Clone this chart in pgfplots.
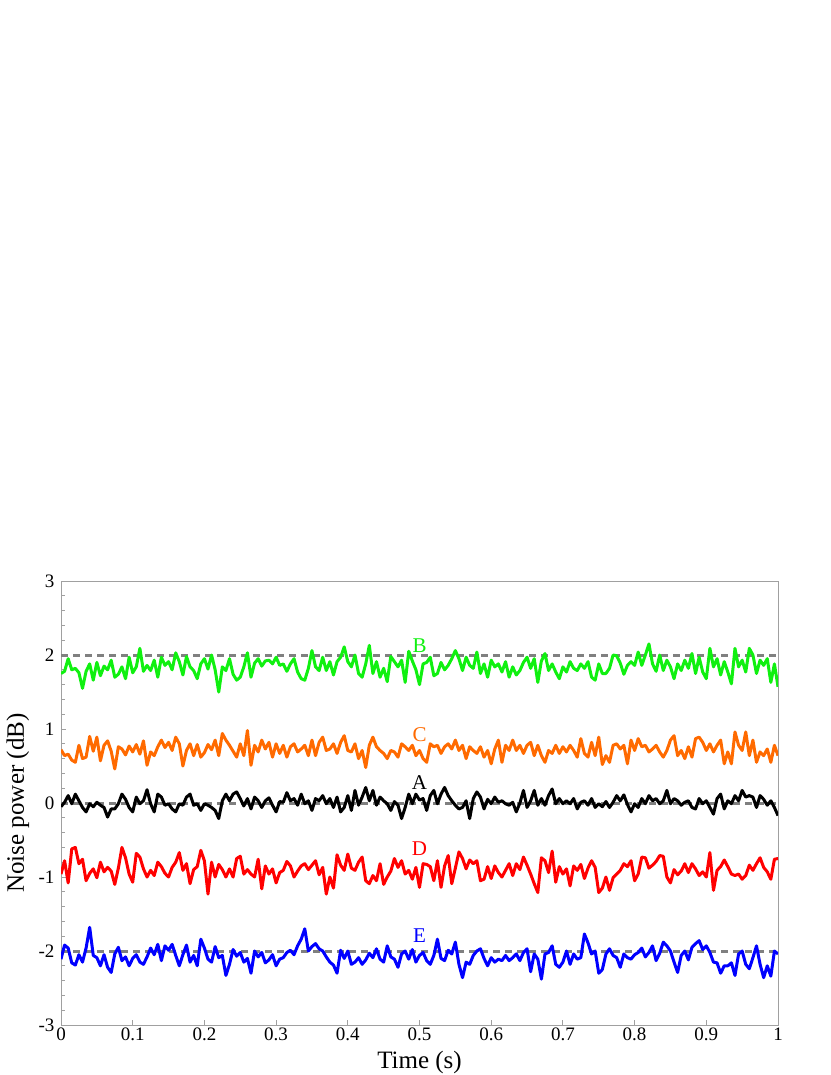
\documentclass[border=0pt]{standalone}
\usepackage{fontspec}
\setmainfont{Liberation Serif}
\usepackage{pgfplots}
\usepackage{pgfplotstable}
\pgfplotsset{compat=1.18}
\definecolor{cgreen}{HTML}{10F010}
\definecolor{corange}{HTML}{FF6A00}
\definecolor{cred}{HTML}{FF0000}
\definecolor{cblue}{HTML}{0000FF}
\definecolor{refgray}{HTML}{808080}
\definecolor{axisgray}{HTML}{A0A0A0}

% noise traces, 5 ms steps
\pgfplotstableread{
t B C A D E
0.000 1.75 0.72 -0.05 -0.96 -2.11
0.005 1.78 0.64 0.01 -0.78 -1.92
0.010 1.95 0.66 0.10 -1.08 -1.96
0.015 1.80 0.58 -0.01 -0.62 -2.16
0.020 1.82 0.55 0.12 -0.60 -2.19
0.025 1.76 0.78 0.03 -0.82 -2.05
0.030 1.55 0.60 -0.06 -0.76 -2.15
0.035 1.78 0.62 -0.12 -1.05 -1.96
0.040 1.88 0.90 -0.01 -0.95 -1.68
0.045 1.66 0.70 -0.05 -0.89 -2.06
0.050 1.90 0.89 0.01 -1.01 -2.09
0.055 1.72 0.57 -0.03 -0.80 -2.20
0.060 1.85 0.78 -0.06 -0.93 -2.05
0.065 1.80 0.84 -0.19 -0.87 -2.22
0.070 1.93 0.70 -0.08 -0.92 -2.29
0.075 1.70 0.46 -0.08 -1.10 -2.04
0.080 1.74 0.76 -0.01 -0.88 -1.95
0.085 1.84 0.73 0.12 -0.60 -2.13
0.090 1.68 0.65 0.05 -0.74 -2.08
0.095 1.97 0.77 -0.06 -0.96 -2.20
0.100 1.76 0.69 -0.12 -1.07 -2.10
0.105 1.84 0.79 0.08 -0.68 -2.05
0.110 2.09 0.66 -0.01 -0.73 -2.15
0.115 1.78 0.84 0.03 -0.89 -2.18
0.120 1.86 0.51 0.18 -1.00 -2.08
0.125 1.79 0.69 -0.01 -0.91 -1.96
0.130 1.93 0.64 -0.12 -0.98 -2.05
0.135 1.70 0.76 0.12 -0.80 -1.91
0.140 1.97 0.85 0.08 -0.86 -2.13
0.145 1.86 0.75 -0.03 -0.95 -1.93
0.150 1.91 0.82 -0.01 -1.00 -1.99
0.155 1.80 0.71 -0.08 -0.87 -1.91
0.160 2.03 0.89 -0.12 -0.80 -2.06
0.165 1.91 0.80 -0.01 -0.67 -2.20
0.170 1.73 0.50 -0.03 -0.91 -2.05
0.175 1.98 0.71 0.08 -0.82 -1.92
0.180 1.84 0.80 0.12 -1.09 -2.15
0.185 1.79 0.64 -0.03 -0.90 -2.06
0.190 1.68 0.79 -0.01 -0.86 -2.20
0.195 1.88 0.62 -0.10 -0.64 -1.84
0.200 1.95 0.68 -0.01 -0.78 -1.96
0.205 1.81 0.79 -0.03 -1.23 -2.11
0.210 2.00 0.72 -0.06 -0.80 -2.15
0.215 1.80 0.85 -0.10 -1.00 -1.94
0.220 1.50 0.64 -0.21 -0.83 -2.09
0.225 1.84 0.94 0.03 -0.90 -2.06
0.230 1.79 0.85 0.12 -1.00 -2.33
0.235 1.95 0.78 0.03 -0.89 -2.18
0.240 1.74 0.70 0.12 -1.00 -1.98
0.245 1.66 0.62 0.15 -0.75 -2.07
0.250 1.70 0.80 0.06 -0.72 -2.02
0.255 1.84 0.64 -0.04 -0.96 -2.15
0.260 2.03 0.98 0.06 -0.90 -2.10
0.265 1.70 0.51 -0.08 -0.96 -2.30
0.270 1.89 0.78 0.08 -1.00 -2.00
0.275 1.95 0.69 0.03 -0.76 -2.08
0.280 1.85 0.85 -0.06 -1.16 -2.02
0.285 1.92 0.73 0.03 -0.85 -2.16
0.290 1.93 0.82 0.07 -0.96 -2.12
0.295 1.88 0.62 -0.03 -0.89 -2.05
0.300 1.97 0.80 -0.12 -1.08 -2.20
0.305 1.86 0.67 0.02 -0.94 -2.11
0.310 1.88 0.78 0.01 -0.91 -2.09
0.315 1.78 0.62 0.14 -0.79 -2.02
0.320 1.88 0.76 0.03 -0.85 -1.99
0.325 1.95 0.80 0.06 -1.00 -2.05
0.330 1.77 0.69 -0.03 -0.92 -1.93
0.335 1.68 0.73 0.12 -0.85 -1.84
0.340 1.66 0.78 -0.01 -0.82 -1.70
0.345 1.82 0.64 0.03 -0.90 -2.00
0.350 2.06 0.85 -0.10 -0.84 -1.94
0.355 1.84 0.64 0.06 -0.78 -1.90
0.360 1.79 0.82 0.03 -0.97 -1.97
0.365 1.97 0.89 0.10 -0.87 -2.00
0.370 1.79 0.71 -0.01 -1.23 -2.08
0.375 1.91 0.73 0.06 -1.00 -2.15
0.380 1.73 0.80 -0.06 -1.15 -2.19
0.385 1.91 0.67 0.08 -0.70 -2.30
0.390 1.97 0.82 -0.12 -0.84 -1.99
0.395 2.11 0.91 -0.06 -0.91 -2.10
0.400 1.91 0.71 0.10 -0.69 -2.00
0.405 1.84 0.69 -0.10 -0.88 -2.18
0.410 2.00 0.80 0.17 -0.91 -2.15
0.415 1.75 0.60 -0.03 -0.80 -2.09
0.420 1.70 0.71 0.08 -0.73 -2.18
0.425 1.88 0.48 0.21 -1.05 -2.12
0.430 2.13 0.78 0.03 -1.09 -2.03
0.435 1.75 0.89 0.17 -0.98 -2.09
0.440 1.91 0.76 -0.03 -1.05 -1.97
0.445 1.70 0.71 0.08 -0.82 -2.11
0.450 1.82 0.67 0.03 -1.10 -2.15
0.455 1.64 0.60 -0.01 -1.00 -1.93
0.460 1.98 0.71 -0.10 -0.92 -2.08
0.465 1.91 0.69 0.02 -0.75 -2.11
0.470 1.84 0.62 -0.03 -0.87 -2.22
0.475 1.93 0.80 -0.21 -0.78 -2.04
0.480 1.63 0.76 -0.06 -0.96 -2.00
0.485 2.05 0.71 0.12 -0.91 -2.11
0.490 1.92 0.78 -0.01 -1.03 -1.98
0.495 1.80 0.64 0.12 -0.87 -2.15
0.500 1.60 0.71 0.04 -1.14 -2.06
0.505 1.88 0.60 0.06 -0.82 -2.02
0.510 1.90 0.55 -0.10 -0.83 -2.13
0.515 1.97 0.80 0.10 -0.86 -2.18
0.520 1.72 0.76 0.17 -1.05 -2.06
0.525 1.75 0.78 -0.01 -0.78 -1.84
0.530 1.90 0.67 0.12 -1.14 -2.10
0.535 1.80 0.76 0.21 -0.85 -2.13
0.540 1.86 0.80 0.10 -0.71 -1.99
0.545 1.95 0.73 0.03 -1.09 -2.04
0.550 2.06 0.85 -0.03 -0.88 -1.88
0.555 1.95 0.71 -0.08 -0.66 -2.18
0.560 1.79 0.78 -0.06 -0.75 -2.36
0.565 1.97 0.60 0.03 -0.89 -2.15
0.570 1.86 0.76 -0.21 -0.77 -2.18
0.575 1.82 0.71 0.06 -0.82 -2.06
0.580 2.04 0.67 0.15 -0.78 -2.00
0.585 1.75 0.76 0.08 -1.05 -1.97
0.590 1.88 0.62 -0.08 -1.03 -2.10
0.595 1.70 0.71 0.05 -0.86 -2.20
0.600 1.93 0.53 -0.01 -1.02 -2.09
0.605 1.84 0.73 0.08 -0.85 -2.15
0.610 1.88 0.85 0.01 -0.94 -2.11
0.615 1.77 0.55 0.03 -1.00 -2.13
0.620 1.91 0.78 -0.01 -0.91 -2.06
0.625 1.70 0.71 -0.03 -0.82 -2.13
0.630 1.84 0.85 0.01 -0.98 -2.09
0.635 1.73 0.71 -0.12 -0.82 -2.04
0.640 1.79 0.78 0.00 -0.90 -2.13
0.645 1.90 0.67 0.17 -0.73 -2.02
0.650 1.97 0.78 -0.06 -0.84 -1.97
0.655 1.82 0.82 0.03 -0.96 -2.28
0.660 1.95 0.64 0.17 -1.09 -2.04
0.665 1.63 0.78 -0.03 -1.21 -2.11
0.670 1.92 0.64 0.06 -0.74 -2.38
0.675 2.02 0.55 -0.03 -0.78 -2.04
0.680 1.79 0.71 0.10 -0.94 -2.02
0.685 1.88 0.67 0.19 -0.65 -1.93
0.690 1.77 0.78 -0.01 -1.07 -2.18
0.695 1.68 0.67 0.06 -0.86 -2.22
0.700 1.84 0.76 -0.01 -0.96 -2.15
0.705 1.77 0.69 0.03 -0.89 -2.00
0.710 1.91 0.78 -0.01 -1.12 -2.18
0.715 1.82 0.71 0.06 -0.85 -2.04
0.720 1.79 0.62 -0.08 -0.91 -2.11
0.725 1.88 0.87 0.01 -0.83 -2.09
0.730 1.82 0.67 0.03 -1.02 -1.77
0.735 1.91 0.62 -0.03 -0.88 -1.89
0.740 1.70 0.82 0.06 -0.78 -2.04
0.745 1.66 0.64 -0.06 -0.87 -2.00
0.750 1.88 0.89 -0.01 -1.21 -2.30
0.755 1.75 0.52 -0.05 -1.15 -2.25
0.760 1.75 0.64 0.02 -1.00 -2.04
0.765 1.82 0.55 -0.06 -1.18 -1.97
0.770 2.00 0.78 0.01 -1.01 -2.06
0.775 1.99 0.80 0.10 -0.96 -2.09
0.780 1.89 0.73 0.03 -0.91 -2.22
0.785 1.74 0.78 0.11 -0.82 -2.04
0.790 1.86 0.53 -0.02 -0.86 -2.09
0.795 1.91 0.85 -0.12 -0.78 -2.11
0.800 1.86 0.71 -0.01 -1.05 -2.05
0.805 2.04 0.87 -0.06 -0.96 -2.02
0.810 1.86 0.76 0.06 -0.73 -1.96
0.815 2.00 0.78 -0.01 -0.74 -2.08
0.820 2.15 0.69 0.10 -0.88 -2.02
0.825 1.88 0.73 0.03 -0.84 -1.93
0.830 1.78 0.78 0.06 -0.79 -2.13
0.835 2.00 0.69 -0.01 -0.71 -2.03
0.840 1.79 0.62 0.03 -0.72 -1.88
0.845 1.93 0.71 0.17 -1.00 -1.93
0.850 1.84 0.85 -0.01 -1.08 -2.00
0.855 1.68 0.91 0.06 -0.90 -2.15
0.860 1.88 0.64 0.03 -0.97 -2.29
0.865 1.79 0.71 -0.03 -0.92 -2.06
0.870 1.93 0.60 0.01 -0.82 -2.00
0.875 1.82 0.76 0.03 -0.94 -2.12
0.880 2.02 0.62 -0.06 -0.82 -1.95
0.885 1.75 0.87 -0.08 -0.89 -1.90
0.890 1.97 0.89 0.06 -0.98 -1.86
0.895 1.77 0.82 -0.01 -0.93 -1.98
0.900 1.68 0.71 0.03 -1.00 -1.93
0.905 2.09 0.80 -0.06 -0.67 -2.02
0.910 1.84 0.69 -0.15 -1.18 -2.15
0.915 1.95 0.78 0.06 -0.91 -2.16
0.920 1.73 0.85 0.12 -0.86 -2.30
0.925 1.91 0.53 -0.08 -0.77 -2.20
0.930 1.77 0.69 0.03 -0.86 -2.20
0.935 1.61 0.53 -0.01 -0.96 -2.16
0.940 2.09 0.96 0.10 -0.98 -2.33
0.945 1.84 0.78 0.03 -0.96 -2.04
0.950 1.93 0.71 0.17 -1.03 -2.00
0.955 1.77 0.96 0.08 -0.98 -2.18
0.960 2.09 0.64 0.10 -0.84 -2.24
0.965 2.00 0.85 0.08 -0.91 -2.09
0.970 1.75 0.55 -0.06 -0.82 -1.93
0.975 1.93 0.69 0.10 -0.74 -2.18
0.980 1.86 0.64 0.05 -0.87 -2.36
0.985 1.95 0.73 -0.03 -0.93 -2.20
0.990 1.63 0.55 0.03 -1.03 -2.34
0.995 1.88 0.78 -0.06 -0.76 -2.00
1.000 1.57 0.64 -0.17 -0.75 -2.04
}\noisedata

\begin{document}
\begin{tikzpicture}
\useasboundingbox (0,0) rectangle (830pt,-1075pt);
\begin{axis}[
  at={(61pt,-1025pt)}, anchor=south west,
  width=717pt, height=444pt, scale only axis,
  xmin=0, xmax=1, ymin=-3, ymax=3,
  axis line style={draw=axisgray, line width=0.9pt},
  xtick={0,0.1,0.2,0.3,0.4,0.5,0.6,0.7,0.8,0.9,1},
  xticklabels={0,0.1,0.2,0.3,0.4,0.5,0.6,0.7,0.8,0.9,1},
  ytick={-3,-2,-1,0,1,2,3},
  yticklabels={-3,-2,-1,0,1,2,3},
  minor y tick num=4,
  tick pos=left, tick align=inside,
  tick style={draw=axisgray, line width=0.9pt},
  major tick length=5pt, minor tick length=4pt,
  tick label style={font=\fontsize{19}{19}\selectfont},
  xticklabel style={yshift=1pt},
  yticklabel style={xshift=-3pt},
  xlabel={Time (s)}, ylabel={Noise power (dB)},
  label style={font=\fontsize{25}{25}\selectfont},
  xlabel style={at={(axis description cs:0.5,0)}, anchor=base, yshift=-43pt},
  ylabel style={at={(axis description cs:-0.06,0.5)}, anchor=center},
]
% reference levels
\addplot[refgray, line width=3pt, dash pattern=on 7pt off 5pt] coordinates {(0,2) (1,2)};
\addplot[refgray, line width=3pt, dash pattern=on 7pt off 5pt] coordinates {(0,0) (1,0)};
\addplot[refgray, line width=3pt, dash pattern=on 7pt off 5pt] coordinates {(0,-2) (1,-2)};
% traces
\addplot[cgreen, line width=3pt, line join=round] table[x=t, y=B] {\noisedata};
\addplot[corange, line width=3pt, line join=round] table[x=t, y=C] {\noisedata};
\addplot[black, line width=3pt, line join=round] table[x=t, y=A] {\noisedata};
\addplot[cred, line width=3pt, line join=round] table[x=t, y=D] {\noisedata};
\addplot[cblue, line width=3pt, line join=round] table[x=t, y=E] {\noisedata};
% trace names
\node[text=cgreen, font=\fontsize{21}{21}\selectfont] at (axis cs:0.5,2.12) {B};
\node[text=corange, font=\fontsize{21}{21}\selectfont] at (axis cs:0.5,0.92) {C};
\node[text=black, font=\fontsize{21}{21}\selectfont] at (axis cs:0.5,0.28) {A};
\node[text=cred, font=\fontsize{21}{21}\selectfont] at (axis cs:0.5,-0.62) {D};
\node[text=cblue, font=\fontsize{21}{21}\selectfont] at (axis cs:0.5,-1.79) {E};
\end{axis}
\end{tikzpicture}
\end{document}
